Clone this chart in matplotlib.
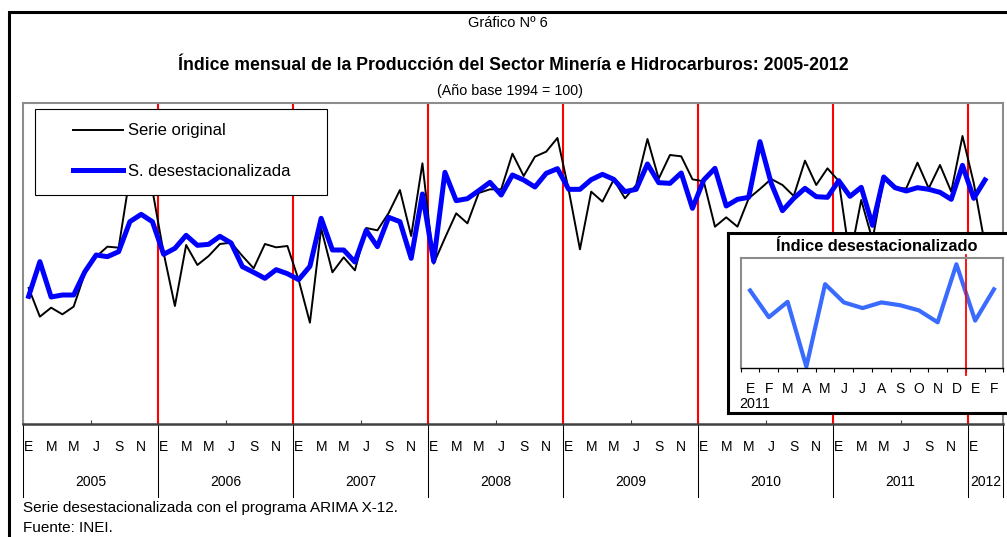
import matplotlib
matplotlib.use("Agg")
import matplotlib.pyplot as plt
import matplotlib.transforms as mtransforms
from matplotlib import font_manager
from matplotlib.patches import Rectangle
import numpy as np

# %% data
years = ["2005", "2006", "2007", "2008", "2009", "2010", "2011", "2012"]
month_letters = ["E", "F", "M", "A", "M", "J", "J", "A", "S", "O", "N", "D"]

serie_original = [
    220.8, 212.2, 214.9, 212.9, 215.2, 225.2, 230.2, 233.2, 232.9, 254.4, 255.6, 250.2,  # 2005
    231.3, 215.4, 233.7, 227.7, 230.4, 234.0, 234.4, 230.4, 226.7, 234.0, 233.0, 233.4,  # 2006
    223.2, 210.4, 238.7, 225.5, 230.0, 226.1, 238.8, 238.1, 243.3, 250.2, 236.4, 258.2,  # 2007
    228.1, 235.8, 243.2, 240.2, 249.3, 250.4, 250.4, 261.1, 254.4, 260.2, 261.7, 265.8,  # 2008
    250.2, 232.4, 249.7, 246.7, 253.3, 247.7, 251.7, 265.5, 253.6, 260.7, 260.3, 253.4,  # 2009
    252.8, 239.2, 242.0, 239.2, 247.7, 250.5, 253.5, 251.7, 248.4, 259.0, 251.7, 256.7,  # 2010
    252.9, 229.8, 247.2, 235.2, 253.7, 250.7, 250.7, 258.4, 250.7, 257.7, 249.7, 266.4,  # 2011
    252.3, 233.7,                                                                          # 2012
]
serie_desest = [
    218.3, 228.7, 218.1, 218.7, 218.7, 225.7, 230.7, 230.2, 231.7, 240.7, 242.9, 240.7,
    230.9, 232.7, 236.6, 233.6, 233.9, 236.3, 234.3, 227.2, 225.5, 223.7, 226.3, 225.1,
    223.3, 227.3, 241.7, 232.2, 232.2, 228.6, 238.1, 233.2, 242.0, 240.7, 229.7, 249.0,
    228.8, 255.5, 247.0, 247.6, 250.0, 252.5, 248.7, 254.7, 253.2, 251.1, 255.2, 256.6,
    250.4, 250.4, 253.3, 254.9, 253.4, 249.7, 250.4, 258.0, 252.4, 252.2, 255.3, 244.7,
    253.2, 256.7, 245.4, 247.4, 248.0, 264.7, 252.2, 244.0, 247.7, 250.7, 248.2, 248.0,
    253.0, 248.3, 251.0, 239.6, 254.1, 250.9, 249.9, 250.9, 250.4, 249.5, 247.4, 257.6,
    247.7, 253.2,
]
n_inset = 14  # enero 2011 - febrero 2012

# %% fonts
try:
    font_manager.findfont("Liberation Sans Narrow", fallback_to_default=False)
    NARROW = "Liberation Sans Narrow"
except ValueError:
    NARROW = "Liberation Sans"
plt.rcParams["font.family"] = ["Liberation Sans", "DejaVu Sans"]

W, H = 1007, 537


def fx(px):
    return px / W


def fy(py):
    return 1 - py / H


fig = plt.figure(figsize=(W / 100, H / 100), dpi=100)

# outer frame
fig.add_artist(Rectangle((fx(9), -0.2), 1.3, fy(12) + 0.2, transform=fig.transFigure,
                         fill=False, edgecolor="black", lw=2.2))

fig.text(fx(508), fy(23), "Gráfico Nº 6", ha="center", va="center", family=NARROW, fontsize=10.5)
fig.text(fx(513), fy(65), "Índice mensual de la Producción del Sector Minería e Hidrocarburos: 2005-2012",
         ha="center", va="center", family=NARROW, fontsize=12.7, fontweight="bold")
fig.text(fx(510), fy(91), "(Año base 1994 = 100)", ha="center", va="center", family=NARROW, fontsize=10.3)

# %% main chart
L, R, T, B = 23, 1003, 103, 424
ax = fig.add_axes([fx(L), fy(B), fx(R) - fx(L), fy(T) - fy(B)])
x = np.arange(len(serie_original))
ax.plot(x, serie_original, color="black", lw=1.4, zorder=3, label="Serie original")
ax.plot(x, serie_desest, color="#0000FF", lw=3.6, zorder=3, solid_joinstyle="round",
        label="S. desestacionalizada")
ax.set_xlim(-0.5, 86.6)
ax.set_ylim(180, 276.3)
ax.set_yticks([])
for k in range(1, len(years)):
    ax.axvline(12 * k - 0.5, color="red", lw=1.5, zorder=2)

for side in ("top", "left", "right"):
    ax.spines[side].set_color("#8c8c8c")
    ax.spines[side].set_linewidth(1.5)
ax.spines["bottom"].set_color("#404040")
ax.spines["bottom"].set_linewidth(1.8)
ax.set_xticks(np.arange(-0.5, 87, 6))
ax.tick_params(axis="x", direction="in", length=3, color="#404040", labelbottom=False)


def ax_x(px):
    return (px - L) / (R - L)


def ax_y(py):
    return (B - py) / (B - T)


trans = mtransforms.blended_transform_factory(ax.transData, ax.transAxes)
for i in x:
    if i % 2 == 0:
        ax.text(i, ax_y(447), month_letters[i % 12], transform=trans, ha="center", va="center",
                family=NARROW, fontsize=10)
bounds = [12 * k - 0.5 for k in range(len(years))] + [86.6]
for j, yr in enumerate(years):
    ax.text((bounds[j] + bounds[j + 1]) / 2, ax_y(482), yr, transform=trans, ha="center",
            va="center", family=NARROW, fontsize=10)
for b in bounds:
    ax.axvline(b, ymin=ax_y(497), ymax=0, color="black", lw=0.75, clip_on=False)

# legend
ax.add_patch(Rectangle((ax_x(35), ax_y(195)), ax_x(327) - ax_x(35), ax_y(109) - ax_y(195),
                       transform=ax.transAxes, facecolor="white", edgecolor="black", lw=0.8, zorder=4))
ax.legend(loc="upper left", bbox_to_anchor=(ax_x(73), ax_y(123.5)), frameon=False, borderpad=0,
          borderaxespad=0, handlelength=3.0, handletextpad=0.3, labelspacing=1.55, fontsize=12)

fig.text(fx(23), fy(508), "Serie desestacionalizada con el programa ARIMA X-12.", va="center", fontsize=11)
fig.text(fx(23), fy(528), "Fuente: INEI.", va="center", fontsize=11)

# %% inset
box = fig.add_axes([fx(728.3), fy(413.3), fx(1015) - fx(728.3), fy(233.3) - fy(413.3)])
box.set_zorder(5)
box.set_xticks([])
box.set_yticks([])
for s in box.spines.values():
    s.set_color("black")
    s.set_linewidth(2.2)
box.text(fx(877), fy(246.5), "Índice desestacionalizado", transform=fig.transFigure, ha="center",
         va="center", fontsize=11.8, fontweight="bold")

iL, iR, iT, iB = 740.7, 1003.3, 258.3, 368.3
iax = fig.add_axes([fx(iL), fy(iB), fx(iR) - fx(iL), fy(iT) - fy(iB)])
iax.set_zorder(6)
inset_vals = serie_desest[-n_inset:]
inset_labels = [month_letters[i % 12] for i in range(len(serie_desest) - n_inset, len(serie_desest))]
iax.plot(np.arange(n_inset), inset_vals, color="#3a6bff", lw=3.0, solid_joinstyle="round")
iax.set_xlim(-0.5, n_inset - 0.5)
iax.set_ylim(239.32, 258.65)
iax.set_yticks([])
iax.set_xticks(np.arange(-0.5, n_inset, 1))
iax.tick_params(axis="x", which="major", direction="out", length=3, color="black", labelbottom=False)
iax.set_xticks(np.arange(n_inset), labels=inset_labels, minor=True)
iax.tick_params(axis="x", which="minor", length=0, pad=10, labelsize=10)
for side in ("top", "left", "right"):
    iax.spines[side].set_color("#8c8c8c")
    iax.spines[side].set_linewidth(1.5)
iax.spines["bottom"].set_color("black")
iax.spines["bottom"].set_linewidth(1.0)
iax.axvline(n_inset - 2.5, ymin=(iB - 375) / (iB - iT), ymax=(iB - 255) / (iB - iT),
            color="red", lw=1.3, clip_on=False)
iax.text(fx(739), fy(403.5), "2011", transform=fig.transFigure, va="center", fontsize=10.3)

fig.savefig("out.png", dpi=100)
